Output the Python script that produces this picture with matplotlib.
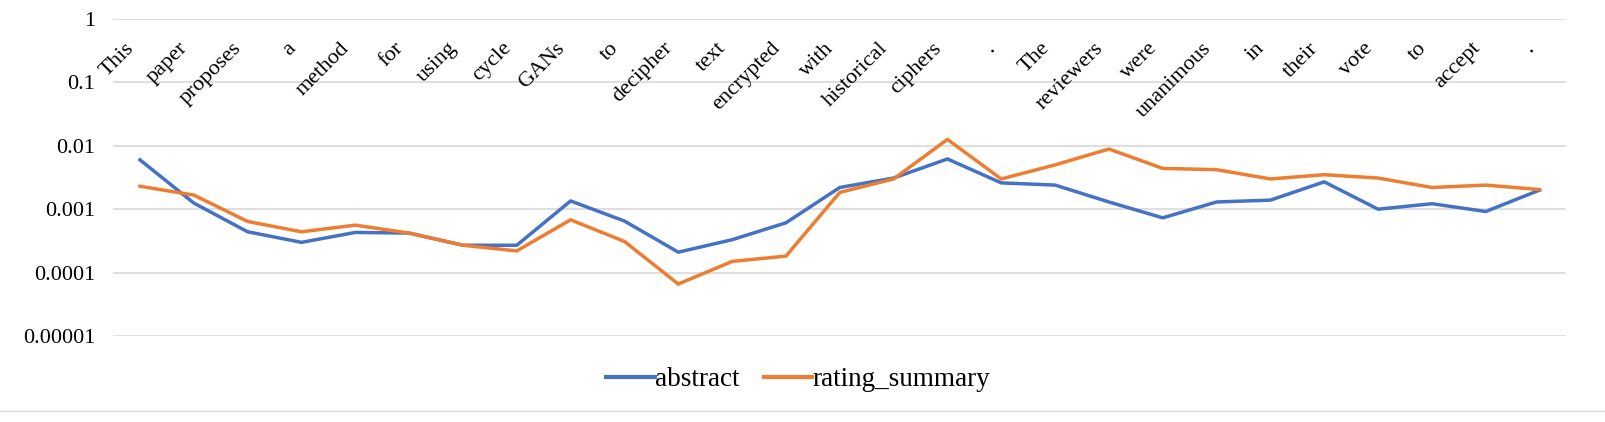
import numpy as np
import matplotlib
matplotlib.use("Agg")
import matplotlib.pyplot as plt

## Data
words = ["This", "paper", "proposes", "a", "method", "for", "using", "cycle",
         "GANs", "to", "decipher", "text", "encrypted", "with", "historical",
         "ciphers", ".", "The", "reviewers", "were", "unanimous", "in",
         "their", "vote", "to", "accept", "."]

abstract = [0.0060, 0.00125, 0.00044, 0.00030, 0.00043, 0.00042, 0.00027,
            0.00027, 0.00135, 0.00065, 0.00021, 0.00033, 0.00061, 0.0022,
            0.0031, 0.0062, 0.0026, 0.0024, 0.0013, 0.00073, 0.0013,
            0.00139, 0.0027, 0.00100, 0.00122, 0.00092, 0.0020]

rating_summary = [0.0023, 0.00167, 0.00064, 0.00044, 0.00056, 0.00042,
                  0.00027, 0.00022, 0.00068, 0.00031, 0.000066, 0.000150,
                  0.000182, 0.00184, 0.0030, 0.0126, 0.0030, 0.0050, 0.0089,
                  0.0044, 0.0042, 0.0030, 0.0035, 0.0031, 0.0022, 0.0024,
                  0.00204]

ytick_vals = [1, 0.1, 0.01, 0.001, 0.0001, 0.00001]
ytick_labels = ["1", "0.1", "0.01", "0.001", "0.0001", "0.00001"]

blue = "#4472C4"
orange = "#ED7D31"
serif = ["Liberation Serif", "DejaVu Serif"]

## Plotting
fig = plt.figure(figsize=(16.06, 4.22), dpi=100)
ax = fig.add_axes([0.0704, 0.2038, 0.905, 0.7512])

x = np.arange(len(words))
ax.plot(x, abstract, color=blue, lw=2.5, label="abstract", solid_joinstyle="round")
ax.plot(x, rating_summary, color=orange, lw=2.5, label="rating_summary",
        solid_joinstyle="round")

ax.set_yscale("log")
ax.set_ylim(0.00001, 1)
ax.set_xlim(-0.5, len(words) - 0.5)
ax.set_yticks(ytick_vals)
ax.set_yticklabels(ytick_labels, fontfamily=serif, fontsize=16)
ax.yaxis.set_minor_locator(matplotlib.ticker.NullLocator())
ax.set_xticks([])
ax.tick_params(axis="y", length=0, pad=13)
ax.grid(axis="y", color="#D9D9D9", lw=1.2)
ax.set_axisbelow(True)
for s in ax.spines.values():
    s.set_visible(False)

# word labels sit inside the plot, rotated
for i, w in enumerate(words):
    ax.text(i - 0.1, 0.34, w, rotation=45, rotation_mode="anchor",
            ha="right", va="baseline", fontfamily=serif, fontsize=16)

leg = fig.legend(loc="center", bbox_to_anchor=(0.497, 0.1), ncol=2,
                 frameon=False, handlelength=1.8, handletextpad=0.0,
                 columnspacing=0.9, prop={"family": serif, "size": 19.5})
for ln in leg.get_lines():
    ln.set_linewidth(3)

fig.add_artist(plt.Line2D([0, 1], [0.025, 0.025], color="#D9D9D9", lw=1))

fig.savefig("out.png", dpi=100)
